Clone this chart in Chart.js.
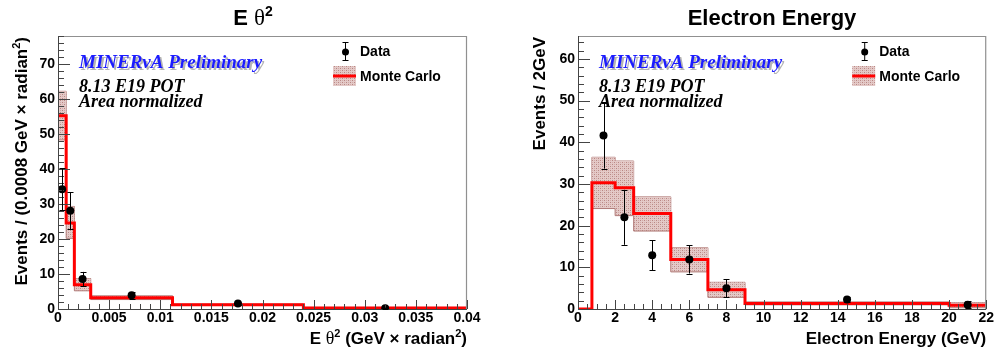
<!DOCTYPE html>
<html><head><meta charset="utf-8">
<script src="https://cdn.jsdelivr.net/npm/chart.js@4"></script>
<style>
html,body{margin:0;padding:0;background:#fff;}
#wrap{position:relative;width:995px;height:350px;}
canvas{position:absolute;left:0;top:0;}
</style></head><body>
<div id="wrap"><canvas id="c1" width="995" height="350"></canvas><canvas id="c2" width="995" height="350"></canvas></div>
<script>
// ---------- Left panel: E theta^2 ----------
const leftEdges   = [0, 0.0008, 0.0016, 0.0032, 0.0112, 0.024, 0.04];
const leftMC      = [55.2, 24.6, 6.9, 3.2, 1.2, 0.3];
const leftMCHigh  = [62.2, 29.3, 8.7, 3.8, 1.4, 0.45];
const leftMCLow   = [48.3, 20.2, 5.2, 2.7, 1.0, 0.2];
const leftDataX   = [0.0004, 0.0012, 0.0024, 0.0072, 0.0176, 0.032];
const leftDataY   = [34.2, 28.1, 8.6, 3.9, 1.6, 0.2];
const leftDataErr = [6.0, 5.3, 2.0, 0.9, 0.5, 0.2];
const leftXTicks  = [0, 0.005, 0.01, 0.015, 0.02, 0.025, 0.03, 0.035, 0.04];
const leftYTicks  = [0, 10, 20, 30, 40, 50, 60, 70];

// ---------- Right panel: Electron Energy ----------
const rightEdges   = [0, 0.75, 2, 3, 5, 7, 9, 20, 22];
const rightMC      = [0, 30.3, 29.1, 22.9, 11.9, 4.6, 1.3, 0.9];
const rightMCHigh  = [0, 36.4, 35.5, 26.9, 14.7, 6.4, 1.7, 1.5];
const rightMCLow   = [0, 24.1, 22.4, 18.7, 8.9, 2.8, 1.0, 0.3];
const rightDataX   = [1.375, 2.5, 4, 6, 8, 14.5, 21];
const rightDataY   = [41.6, 22.0, 12.9, 11.9, 5.0, 2.3, 1.0];
const rightDataErr = [7.9, 6.6, 3.6, 3.4, 2.2, 0.6, 0.8];
const rightXTicks  = [0, 2, 4, 6, 8, 10, 12, 14, 16, 18, 20, 22];
const rightYTicks  = [0, 10, 20, 30, 40, 50, 60];

const SANS = '"Liberation Sans", Arial, sans-serif';
const SERIF = '"Liberation Serif", "Times New Roman", serif';
const B17 = 'bold 17px ' + SANS;
const SUP = 'bold 11px ' + SANS;
const TH17 = '18px ' + SERIF;

function histPoints(edges, vals){
  const p = [];
  for (let i = 0; i < vals.length; i++) p.push({x: edges[i], y: vals[i]});
  p.push({x: edges[edges.length-1], y: vals[vals.length-1]});
  return p;
}
function makePattern(ctx){
  const c = document.createElement('canvas'); c.width = 4; c.height = 4;
  const g = c.getContext('2d');
  g.fillStyle = '#e4cac8'; g.fillRect(0,0,4,4);
  g.fillStyle = '#b98784'; g.fillRect(0,0,1,1); g.fillRect(2,2,1,1);
  g.fillStyle = '#d2aaa7'; g.fillRect(2,0,1,1); g.fillRect(0,2,1,1);
  return ctx.createPattern(c, 'repeat');
}
function runsWidth(ctx, runs){ let w = 0; for (const r of runs){ ctx.font = r.font; w += ctx.measureText(r.t).width; } return w; }
function drawRuns(ctx, runs, x, y){ for (const r of runs){ ctx.font = r.font; ctx.fillText(r.t, x, y + (r.dy || 0)); x += ctx.measureText(r.t).width; } }

function decor(o, pat){
  return {
    id: 'decor',
    afterDraw(chart){
      const ctx = chart.ctx, a = chart.chartArea, xs = chart.scales.x, ys = chart.scales.y;
      ctx.save();
      // frame
      ctx.lineWidth = 1.2; ctx.strokeStyle = '#909090';
      ctx.beginPath(); ctx.moveTo(a.left, a.top + 0.5); ctx.lineTo(a.right - 0.5, a.top + 0.5); ctx.lineTo(a.right - 0.5, a.bottom); ctx.stroke();
      ctx.lineWidth = 1; ctx.strokeStyle = '#444';
      ctx.beginPath(); ctx.moveTo(a.left + 0.5, a.top); ctx.lineTo(a.left + 0.5, a.bottom + 0.5); ctx.lineTo(a.right, a.bottom + 0.5); ctx.stroke();
      // ticks inside
      ctx.beginPath();
      const yMax = ys.max, xMax = xs.max;
      for (let k = 0; ; k++){
        const v = k * o.yMinor; if (v > yMax + 1e-9) break;
        const py = Math.round(ys.getPixelForValue(v)) + 0.5;
        const major = o.yTicks.some(t => Math.abs(t - v) < 1e-9);
        ctx.moveTo(a.left, py); ctx.lineTo(a.left + (major ? 12 : 6), py);
      }
      for (let k = 0; ; k++){
        const v = k * o.xMinor; if (v > xMax + 1e-12) break;
        const px = Math.round(xs.getPixelForValue(v)) + 0.5;
        const major = o.xTicks.some(t => Math.abs(t - v) < o.xMinor * 1e-3);
        ctx.moveTo(px, a.bottom); ctx.lineTo(px, a.bottom - (major ? 9 : 5));
      }
      ctx.stroke();
      // error bars
      ctx.strokeStyle = '#000'; ctx.lineWidth = 1;
      ctx.beginPath();
      o.dataX.forEach((x, i) => {
        const px = Math.round(xs.getPixelForValue(x)) + 0.5;
        const y1 = ys.getPixelForValue(o.dataY[i] + o.dataErr[i]);
        const y0 = ys.getPixelForValue(Math.max(0, o.dataY[i] - o.dataErr[i]));
        ctx.moveTo(px, y1); ctx.lineTo(px, y0);
        ctx.moveTo(px - 3, Math.round(y1) + 0.5); ctx.lineTo(px + 3, Math.round(y1) + 0.5);
        ctx.moveTo(px - 3, Math.round(y0) + 0.5); ctx.lineTo(px + 3, Math.round(y0) + 0.5);
      });
      ctx.stroke();
      // title
      ctx.fillStyle = '#000'; ctx.textBaseline = 'alphabetic'; ctx.textAlign = 'left';
      const tw = runsWidth(ctx, o.titleRuns);
      drawRuns(ctx, o.titleRuns, o.titleCenter - tw / 2, 25);
      // x axis title (right aligned at plot right)
      const xw = runsWidth(ctx, o.xTitleRuns);
      drawRuns(ctx, o.xTitleRuns, a.right - xw, 344);
      // y axis title (rotated, aligned to top)
      ctx.save();
      ctx.translate(o.yTitleX, a.top + 1);
      ctx.rotate(-Math.PI / 2);
      const yw = runsWidth(ctx, o.yTitleRuns);
      drawRuns(ctx, o.yTitleRuns, -yw, 0);
      ctx.restore();
      // annotations
      const ax = a.left + 21;
      ctx.font = 'bold italic 19px ' + SERIF;
      ctx.fillStyle = '#b4b4b4'; ctx.fillText('MINERvA Preliminary', ax + 2, 70);
      ctx.fillStyle = '#1c1cff'; ctx.fillText('MINERvA Preliminary', ax, 67.5);
      ctx.fillStyle = '#000';
      ctx.font = 'bold italic 18px ' + SERIF;
      ctx.fillText('8.13 E19 POT', ax, 91.5);
      ctx.fillText('Area normalized', ax, 107);
      // legend
      const mx = a.right - 122 + 0.5;
      ctx.strokeStyle = '#000'; ctx.lineWidth = 1;
      ctx.beginPath();
      ctx.moveTo(mx, 42); ctx.lineTo(mx, 61);
      ctx.moveTo(mx - 3, 42.5); ctx.lineTo(mx + 3, 42.5);
      ctx.moveTo(mx - 3, 60.5); ctx.lineTo(mx + 3, 60.5);
      ctx.stroke();
      ctx.beginPath(); ctx.arc(mx, 52, 3.5, 0, Math.PI * 2); ctx.fill();
      ctx.fillStyle = pat; ctx.fillRect(a.right - 134, 66, 23, 20);
      ctx.strokeStyle = '#ff0000'; ctx.lineWidth = 3;
      ctx.beginPath(); ctx.moveTo(a.right - 134, 76); ctx.lineTo(a.right - 111, 76); ctx.stroke();
      ctx.fillStyle = '#000'; ctx.font = 'bold 14px ' + SANS; ctx.textBaseline = 'middle';
      ctx.fillText('Data', a.right - 107, 52);
      ctx.fillText('Monte Carlo', a.right - 107, 77);
      ctx.restore();
    }
  };
}

function makePanel(id, o){
  const ctx = document.getElementById(id).getContext('2d');
  const pat = makePattern(ctx);
  const tickFont = {family: SANS, size: 14, weight: 'bold'};
  return new Chart(ctx, {
    type: 'line',
    data: {datasets: [
      {data: histPoints(o.edges, o.high), stepped: true, borderColor: '#b07a77', borderWidth: 1, pointRadius: 0, fill: false, order: 4},
      {data: histPoints(o.edges, o.low), stepped: true, borderColor: '#b07a77', borderWidth: 1, pointRadius: 0, fill: '-1', backgroundColor: pat, order: 3},
      {data: histPoints(o.edges, o.mc), stepped: true, borderColor: '#ff0000', borderWidth: 3, pointRadius: 0, fill: false, order: 2},
      {data: o.dataX.map((x, i) => ({x: x, y: o.dataY[i]})), showLine: false, pointRadius: 4, pointBackgroundColor: '#000', pointBorderWidth: 0, order: 1}
    ]},
    options: {
      responsive: false, animation: false, events: [],
      layout: {padding: {left: o.padLeft, right: o.padRight, top: 36, bottom: 0}},
      plugins: {legend: {display: false}, tooltip: {enabled: false}, title: {display: false}},
      scales: {
        x: {type: 'linear', min: o.xMin, max: o.xMax,
            afterBuildTicks: s => { s.ticks = o.xTicks.map(v => ({value: v})); },
            afterFit: s => { s.height = 41; },
            grid: {display: false, drawTicks: false}, border: {display: false},
            ticks: {font: tickFont, color: '#000', padding: 1, maxRotation: 0, autoSkip: false,
                    callback: v => String(+(+v).toFixed(4))}},
        y: {type: 'linear', min: 0, max: o.yMax,
            afterBuildTicks: s => { s.ticks = o.yTicks.map(v => ({value: v})); },
            afterFit: s => { s.width = o.yWidth; },
            grid: {display: false, drawTicks: false}, border: {display: false},
            ticks: {font: tickFont, color: '#000', padding: 3, autoSkip: false}}
      }
    },
    plugins: [decor(o, pat)]
  });
}

makePanel('c1', {
  edges: leftEdges, mc: leftMC, high: leftMCHigh, low: leftMCLow,
  dataX: leftDataX, dataY: leftDataY, dataErr: leftDataErr,
  xTicks: leftXTicks, yTicks: leftYTicks, xMin: 0, xMax: 0.04, yMax: 78,
  xMinor: 0.001, yMinor: 2,
  padLeft: 0, yWidth: 58, padRight: 995 - 467,
  titleCenter: 253,
  titleRuns: [{t: 'E ', font: 'bold 22px ' + SANS}, {t: 'θ', font: '23px ' + SERIF}, {t: '2', font: 'bold 14px ' + SANS, dy: -9}],
  xTitleRuns: [{t: 'E ', font: B17}, {t: 'θ', font: TH17}, {t: '2', font: SUP, dy: -7}, {t: ' (GeV × radian', font: B17}, {t: '2', font: SUP, dy: -7}, {t: ')', font: B17}],
  yTitleX: 27,
  yTitleRuns: [{t: 'Events / (0.0008 GeV × radian', font: B17}, {t: '2', font: SUP, dy: -7}, {t: ')', font: B17}]
});

makePanel('c2', {
  edges: rightEdges, mc: rightMC, high: rightMCHigh, low: rightMCLow,
  dataX: rightDataX, dataY: rightDataY, dataErr: rightDataErr,
  xTicks: rightXTicks, yTicks: rightYTicks, xMin: 0, xMax: 22, yMax: 65.5,
  xMinor: 0.5, yMinor: 2,
  padLeft: 518, yWidth: 60, padRight: 995 - 987,
  titleCenter: 772,
  titleRuns: [{t: 'Electron Energy', font: 'bold 22px ' + SANS}],
  xTitleRuns: [{t: 'Electron Energy (GeV)', font: B17}],
  yTitleX: 545,
  yTitleRuns: [{t: 'Events / 2GeV', font: B17}]
});
</script>
</body></html>
